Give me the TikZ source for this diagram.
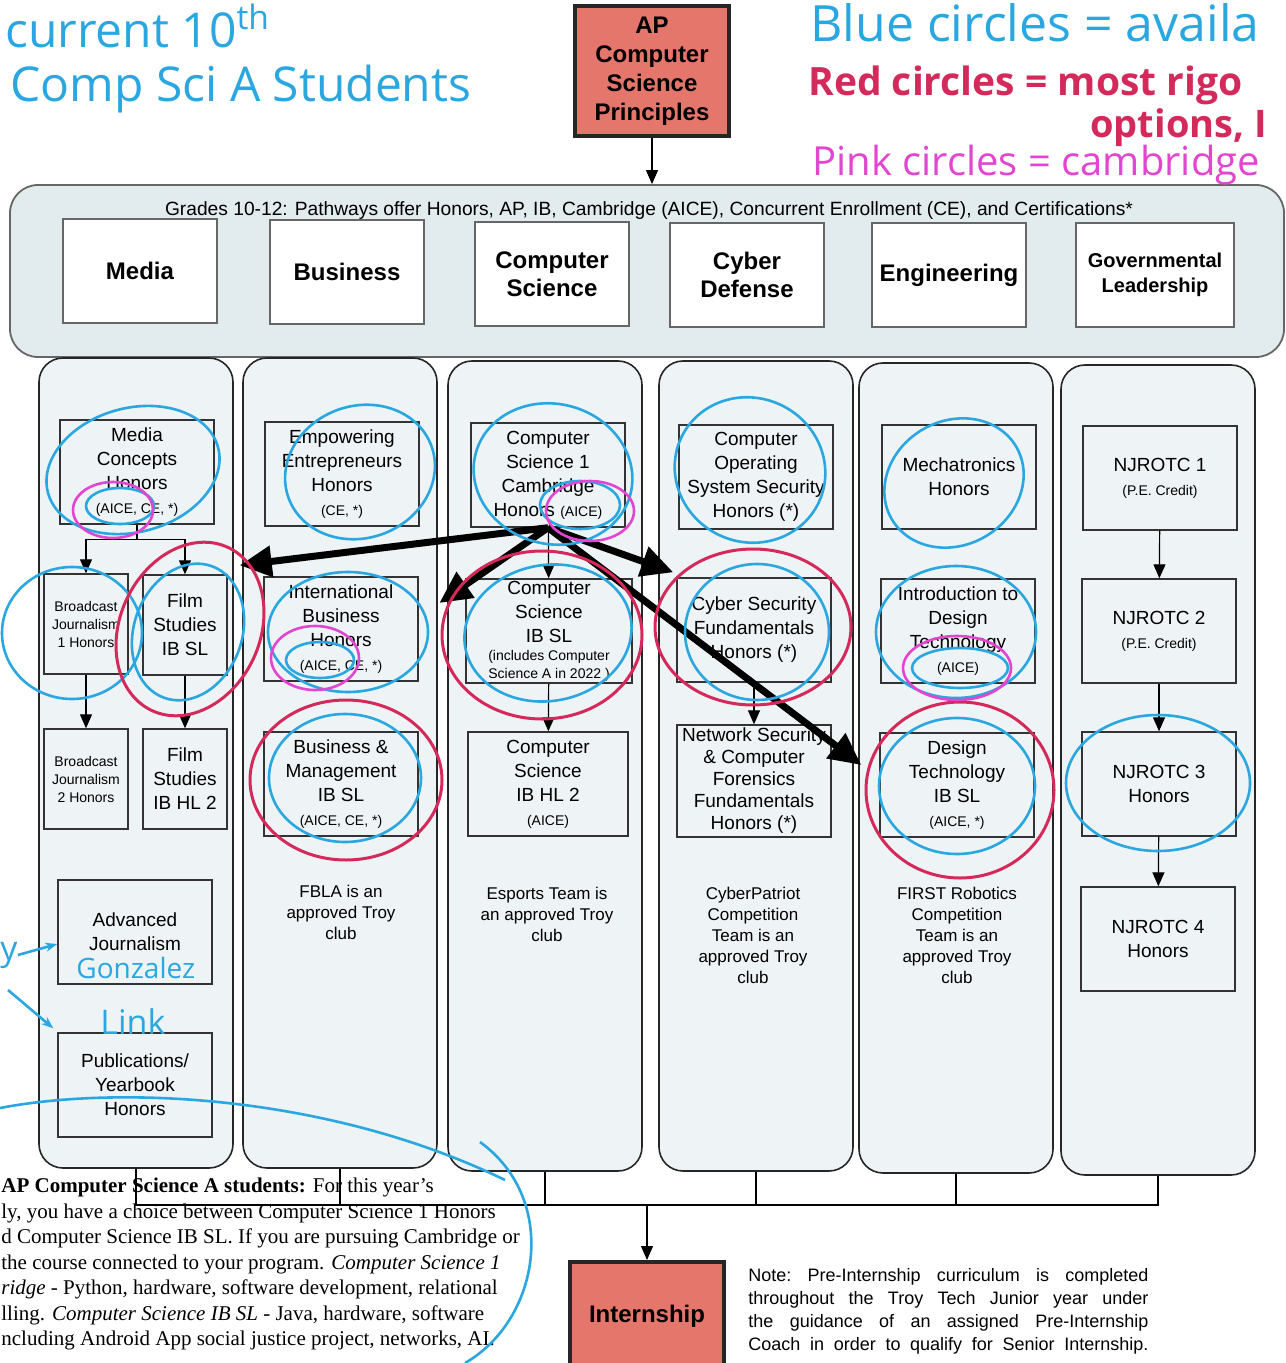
\documentclass[tikz,border=0pt]{standalone}
\usepackage{fontspec}
\setmainfont{Liberation Sans}
\newfontfamily\serifnote{Liberation Serif}
\newfontfamily\handfont{Open Sans}
\usetikzlibrary{arrows.meta,calc}

\definecolor{panelfill}{HTML}{E2EBEE}
\definecolor{lanefill}{HTML}{EEF3F5}
\definecolor{salmon}{HTML}{E5766B}
\definecolor{penblue}{HTML}{2AA7E0}
\definecolor{penred}{HTML}{D42A5B}
\definecolor{penpink}{HTML}{E245CF}

\newcommand{\credit}[1]{{\fontsize{7}{9}\selectfont #1}}

\tikzset{
  lane/.style={draw=black!85, line width=0.8pt, rounded corners=12pt, fill=lanefill,
    minimum width=97pt, minimum height=405pt},
  track/.style={draw=black!60, line width=0.9pt, fill=white, minimum width=77pt,
    minimum height=52pt, align=center, font=\bfseries\fontsize{12}{14}\selectfont},
  course/.style={draw=black!80, line width=0.7pt, minimum width=77pt, minimum height=52pt,
    align=center, inner sep=1pt, font=\fontsize{9.5}{12}\selectfont},
  smallcourse/.style={course, minimum width=42pt, minimum height=50pt},
  capstone/.style={draw=black!85, line width=2pt, fill=salmon, minimum width=77pt,
    align=center, font=\bfseries\fontsize{12}{14.5}\selectfont},
  club/.style={align=center, font=\fontsize{8.5}{10.5}\selectfont},
  flow/.style={-{Triangle[length=7pt,width=6pt]}, line width=0.6pt},
  bigarrow/.style={line width=3.5pt, -{Triangle[length=16pt,width=15pt]}},
  bluepen/.style={draw=penblue, line width=1.3pt},
  redpen/.style={draw=penred, line width=1.5pt},
  pinkpen/.style={draw=penpink, line width=1.3pt},
  hand/.style={anchor=base west, inner sep=0pt, font=\handfont\fontsize{24}{26}\selectfont}
}

\begin{document}
\begin{tikzpicture}[x=0.5pt, y=-0.5pt]
  \useasboundingbox (0,0) rectangle (1285,1363);

  % top box and pathway panel
  \node[capstone, minimum height=65pt] (apcsp) at (652,71) {AP\\Computer\\Science\\Principles};
  \node[draw=black!60, fill=panelfill, rounded corners=14pt, line width=0.9pt,
    minimum width=637pt, minimum height=86pt] (panel) at (647,271) {};
  \node[font=\fontsize{9.6}{11}\selectfont] (grades) at (649,211)
    {Grades 10-12: Pathways offer Honors, AP, IB, Cambridge (AICE), Concurrent Enrollment (CE), and Certifications*};
  \draw[flow] (apcsp.south) -- (apcsp.south |- panel.north);

  \node[track] (hmedia) at (140,271) {Media};
  \node[track] (hbus) at (347,272) {Business};
  \node[track] (hcs) at (552,274) {Computer\\Science};
  \node[track] (hcyber) at (747,275) {Cyber\\Defense};
  \node[track] (heng) at (949,275) {Engineering};
  \node[track, minimum width=79pt, font=\bfseries\fontsize{10}{12.5}\selectfont] (hgov) at (1155,275) {Governmental\\Leadership};

  % lanes
  \node[lane] (lmedia) at (136,763) {};
  \node[lane] (lbus) at (340,763) {};
  \node[lane] (lcs) at (545,766) {};
  \node[lane] (lcyber) at (756,766) {};
  \node[lane] (leng) at (956,768) {};
  \node[lane] (lgov) at (1158,770) {};

  % media
  \node[course] (mediac) at (137,472) {Media\\Concepts\\Honors\\\credit{(AICE, CE, *)}};
  \node[smallcourse, font=\fontsize{7}{9}\selectfont] (bj1) at (86,624) {Broadcast\\Journalism\\1 Honors};
  \node[smallcourse] (filmsl) at (185,625) {Film\\Studies\\IB SL};
  \node[smallcourse, font=\fontsize{7}{9}\selectfont] (bj2) at (86,779) {Broadcast\\Journalism\\2 Honors};
  \node[smallcourse] (filmhl) at (185,779) {Film\\Studies\\IB HL 2};
  \node[course] (advj) at (135,932) {Advanced\\Journalism};
  \node[course] (pubs) at (135,1085) {Publications/\\Yearbook\\Honors};

  % business
  \node[course] (empower) at (342,474) {Empowering\\Entrepreneurs\\Honors\\\credit{(CE, *)}};
  \node[course] (intlbus) at (341,629) {International\\Business\\Honors\\\credit{(AICE, CE, *)}};
  \node[course] (busmgmt) at (341,784) {Business \&\\Management\\IB SL\\\credit{(AICE, CE, *)}};
  \node[club] (fbla) at (341,912) {FBLA is an\\approved Troy\\club};

  % computer science
  \node[course] (cs1) at (548,475) {Computer\\Science 1\\Cambridge\\Honors \credit{(AICE)}};
  \node[course, minimum width=83pt] (csibsl) at (549,631)
    {Computer\\Science\\IB SL\\[-3pt]\credit{(includes Computer}\\[-3pt]\credit{Science A in 2022 )}};
  \node[course, minimum width=80pt] (cshl) at (548,784) {Computer\\Science\\IB HL 2\\\credit{(AICE)}};
  \node[club] (esports) at (547,914) {Esports Team is\\an approved Troy\\club};

  % cyber defense
  \node[course] (osec) at (756,477) {Computer\\Operating\\System Security\\Honors (*)};
  \node[course] (csf) at (754,630) {Cyber Security\\Fundamentals\\Honors (*)};
  \node[course, minimum height=56pt, font=\fontsize{9.5}{11}\selectfont] (netsec) at (754,781)
    {Network Security\\\& Computer\\Forensics\\Fundamentals\\Honors (*)};
  \node[club] (cpatriot) at (753,935) {CyberPatriot\\Competition\\Team is an\\approved Troy\\club};

  % engineering
  \node[course] (mechat) at (959,477) {Mechatronics\\Honors};
  \node[course] (introdt) at (958,631) {Introduction to\\Design\\Technology\\\credit{(AICE)}};
  \node[course] (dtsl) at (957,785) {Design\\Technology\\IB SL\\\credit{(AICE, *)}};
  \node[club] (robotics) at (957,935) {FIRST Robotics\\Competition\\Team is an\\approved Troy\\club};

  % governmental leadership
  \node[course] (nj1) at (1160,478) {NJROTC 1\\\credit{(P.E. Credit)}};
  \node[course] (nj2) at (1159,631) {NJROTC 2\\\credit{(P.E. Credit)}};
  \node[course] (nj3) at (1159,784) {NJROTC 3\\Honors};
  \node[course] (nj4) at (1158,939) {NJROTC 4\\Honors};

  % sequences
  \draw[flow] (mediac.south) -- ++(0,15) -| (bj1);
  \draw[flow] (mediac.south) -- ++(0,15) -| (filmsl);
  \draw[flow] (bj1) -- (bj2);
  \draw[flow] (filmsl) -- (filmhl);
  \draw[flow] (cs1) -- (csibsl);
  \draw[flow] (csibsl) -- (cshl);
  \draw[flow] (csf) -- (netsec);
  \draw[flow] (nj1) -- (nj2);
  \draw[flow] (nj2) -- (nj3);
  \draw[flow] (nj3) -- (nj4);

  % internship
  \coordinate (merge) at (647,1205);
  \draw[line width=0.8pt] (lmedia.south) |- (lgov.south |- merge) -- (lgov.south);
  \draw[line width=0.8pt] (lbus.south) -- (lbus.south |- merge);
  \draw[line width=0.8pt] (lcs.south) -- (lcs.south |- merge);
  \draw[line width=0.8pt] (lcyber.south) -- (lcyber.south |- merge);
  \draw[line width=0.8pt] (leng.south) -- (leng.south |- merge);
  \node[capstone, minimum height=54pt] (intern) at (647,1316) {Internship};
  \draw[flow] (merge) -- (intern);

  \node[anchor=north west, text width=200pt, align=justify, inner sep=0pt,
    font=\fontsize{9}{11.5}\selectfont] (note) at (748,1268)
    {\frenchspacing Note: Pre-Internship curriculum is completed\linebreak
     throughout the Troy Tech Junior year under\linebreak
     the guidance of an assigned Pre-Internship\linebreak
     Coach in order to qualify for Senior Internship.\parfillskip=0pt\par};

  \node[anchor=north west, align=left, inner sep=0pt,
    font=\serifnote\fontsize{10.5}{12.75}\selectfont] (csanote) at (1,1178)
    {\textbf{AP Computer Science A students:} For this year’s\\
     ly, you have a choice between Computer Science 1 Honors\\
     d Computer Science IB SL. If you are pursuing Cambridge or\\
     the course connected to your program. \textit{Computer Science 1}\\
     \textit{ridge} - Python, hardware, software development, relational\\
     lling. \textit{Computer Science IB SL} - Java, hardware, software\\
     ncluding Android App social justice project, networks, AI.};

  % pen marks
  \draw[bigarrow] (cs1.south) -- ([xshift=6pt,yshift=4.5pt]filmsl.north east);
  \draw[bigarrow] (cs1.south) -- ([xshift=-13pt,yshift=14pt]csibsl.west);
  \draw[bigarrow] (cs1.south) -- ([xshift=-1.5pt,yshift=2.5pt]csf.north west);
  \draw[bigarrow] (cs1.south) -- ([xshift=-9pt,yshift=10pt]dtsl.west);

  \draw[bluepen, rotate around={15:(133,470)}] (133,470) ellipse [x radius=44pt, y radius=31pt];
  \draw[bluepen] (72,633) ellipse [x radius=35pt, y radius=33pt];
  \draw[bluepen, rotate around={-20:(188,632)}] (188,632) ellipse [x radius=27pt, y radius=35pt];
  \draw[bluepen, rotate around={20:(360,472)}] (360,472) ellipse [x radius=38pt, y radius=33pt];
  \draw[bluepen] (348,632) ellipse [x radius=40pt, y radius=30pt];
  \draw[bluepen] (345,778) ellipse [x radius=38pt, y radius=32pt];
  \draw[bluepen, rotate around={-15:(553,474)}] (553,474) ellipse [x radius=40pt, y radius=35pt];
  \draw[bluepen, rotate around={10:(548,633)}] (548,633) ellipse [x radius=42pt, y radius=34pt];
  \draw[bluepen, rotate around={-25:(750,470)}] (750,470) ellipse [x radius=38pt, y radius=36pt];
  \draw[bluepen] (757,632) ellipse [x radius=36pt, y radius=34pt];
  \draw[bluepen, rotate around={30:(954,483)}] (954,483) ellipse [x radius=36pt, y radius=31pt];
  \draw[bluepen] (956,632) ellipse [x radius=40pt, y radius=33pt];
  \draw[bluepen] (957,786) ellipse [x radius=39pt, y radius=34pt];
  \draw[bluepen] (1158,783) ellipse [x radius=46pt, y radius=34pt];
  \draw[bluepen] (120,506) ellipse [x radius=17pt, y radius=9pt];
  \draw[bluepen] (320,660) ellipse [x radius=17pt, y radius=9pt];
  \draw[bluepen] (580,505) ellipse [x radius=20pt, y radius=12pt];
  \draw[bluepen] (960,668) ellipse [x radius=24pt, y radius=10pt];

  \draw[redpen, rotate around={-25:(190,629)}] (190,629) ellipse [x radius=35pt, y radius=45pt];
  \draw[redpen] (346,780) ellipse [x radius=48pt, y radius=40pt];
  \draw[redpen] (542,635) ellipse [x radius=50pt, y radius=42pt];
  \draw[redpen] (753,627) ellipse [x radius=49pt, y radius=39pt];
  \draw[redpen] (960,790) ellipse [x radius=47pt, y radius=44pt];

  \draw[pinkpen] (113,510) ellipse [x radius=20pt, y radius=14pt];
  \draw[pinkpen] (315,658) ellipse [x radius=22pt, y radius=16pt];
  \draw[pinkpen] (590,511) ellipse [x radius=22pt, y radius=15pt];
  \draw[pinkpen] (957,668) ellipse [x radius=27pt, y radius=16pt];

  \draw[bluepen] (0,1108) .. controls (120,1085) and (330,1095) .. (505,1180);
  \draw[bluepen] (480,1142) .. controls (560,1200) and (540,1320) .. (465,1363);

  % handwriting
  \node[hand, text=penblue] (hwcurrent) at (5,48) {current 10\textsuperscript{th}};
  \node[hand, text=penblue] (hwstudents) at (10,102) {Comp Sci A Students};
  \node[hand, text=penblue, font=\handfont\fontsize{25}{28}\selectfont] (keyblue) at (810,42) {Blue circles = availa};
  \node[hand, text=penred, font=\handfont\bfseries\fontsize{19.5}{22}\selectfont] (keyred) at (808,96) {Red circles = most rigo};
  \node[hand, text=penred, font=\handfont\bfseries\fontsize{19}{22}\selectfont] (keyred2) at (1090,138) {options, I};
  \node[hand, text=penpink, font=\handfont\fontsize{20}{22}\selectfont] (keypink) at (812,176) {Pink circles = cambridge};
  \node[hand, text=penblue, font=\handfont\fontsize{14}{16}\selectfont] (gonz) at (76,978) {Gonzalez};
  \node[hand, text=penblue, font=\handfont\fontsize{17}{20}\selectfont] (link) at (100,1034) {Link};
  \node[hand, text=penblue, font=\handfont\fontsize{17}{20}\selectfont] (ymark) at (0,960) {y};
  \coordinate (tick) at (8,990);
  \draw[bluepen, -{Stealth[length=6pt]}] (ymark.east) -- ([yshift=-6pt]advj.west);
  \draw[bluepen, -{Stealth[length=6pt]}] (tick) -- ([xshift=-2pt,yshift=2pt]pubs.north west);
\end{tikzpicture}
\end{document}
